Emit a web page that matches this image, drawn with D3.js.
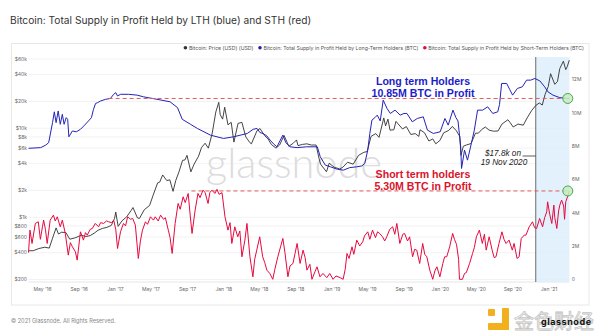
<!DOCTYPE html>
<html><head><meta charset="utf-8">
<script src="https://cdn.jsdelivr.net/npm/d3@7"></script>
<style>html,body{margin:0;padding:0;background:#fff;} svg{display:block;}</style>
</head><body>
<svg id="c" width="600" height="336"></svg>
<script>
// ---------------- DATA ----------------
const titleText = "Bitcoin: Total Supply in Profit Held by LTH (blue) and STH (red)";
const legendLabels = ["Bitcoin: Price (USD) (USD)", "Bitcoin: Total Supply in Profit Held by Long-Term Holders (BTC)", "Bitcoin: Total Supply in Profit Held by Short-Term Holders (BTC)"];

const priceDates = ["2016-03-16","2016-04-01","2016-04-20","2016-05-10","2016-05-25","2016-06-05","2016-06-17","2016-06-25","2016-07-05","2016-07-20","2016-08-02","2016-08-20","2016-09-10","2016-09-25","2016-10-10","2016-10-25","2016-11-05","2016-11-20","2016-12-05","2016-12-20","2016-12-31","2017-01-04","2017-01-12","2017-01-25","2017-02-10","2017-02-25","2017-03-03","2017-03-18","2017-03-25","2017-04-10","2017-04-28","2017-05-10","2017-05-25","2017-06-01","2017-06-11","2017-06-25","2017-07-05","2017-07-16","2017-07-25","2017-08-05","2017-08-17","2017-08-25","2017-09-01","2017-09-14","2017-09-25","2017-10-10","2017-10-20","2017-11-01","2017-11-12","2017-11-25","2017-12-07","2017-12-17","2017-12-22","2017-12-30","2018-01-06","2018-01-17","2018-01-28","2018-02-06","2018-02-20","2018-03-05","2018-03-18","2018-04-01","2018-04-06","2018-04-25","2018-05-05","2018-05-20","2018-06-01","2018-06-12","2018-06-28","2018-07-10","2018-07-25","2018-08-10","2018-08-25","2018-09-05","2018-09-10","2018-09-25","2018-10-10","2018-10-25","2018-11-10","2018-11-20","2018-11-25","2018-12-15","2018-12-24","2019-01-10","2019-01-28","2019-02-08","2019-02-24","2019-03-15","2019-04-02","2019-04-20","2019-05-01","2019-05-14","2019-05-30","2019-06-10","2019-06-26","2019-07-02","2019-07-10","2019-07-17","2019-07-30","2019-08-06","2019-08-28","2019-09-10","2019-09-25","2019-10-10","2019-10-22","2019-10-26","2019-11-10","2019-11-25","2019-12-08","2019-12-18","2020-01-01","2020-01-14","2020-01-31","2020-02-12","2020-02-25","2020-03-08","2020-03-12","2020-03-20","2020-03-30","2020-04-15","2020-04-30","2020-05-10","2020-05-20","2020-06-02","2020-06-15","2020-06-30","2020-07-15","2020-07-28","2020-08-17","2020-08-25","2020-09-04","2020-09-20","2020-10-08","2020-10-21","2020-11-05","2020-11-19","2020-12-01","2020-12-11","2020-12-20","2020-12-31","2021-01-08","2021-01-22","2021-01-31","2021-02-08","2021-02-20","2021-02-28","2021-03-05","2021-03-12"];
const priceValues = [415,416,440,455,445,575,750,640,670,665,560,580,620,600,615,660,705,740,760,800,960,1130,780,900,1000,1180,1270,970,960,1200,1340,1750,2400,2450,2950,2550,2600,1930,2550,3200,4300,4350,4900,3200,3900,4800,6000,6700,5900,8700,15000,19300,14000,12500,17000,10800,11500,6900,11200,11500,7900,6800,6600,9300,9800,8200,7500,6500,5900,6400,8200,6200,6700,7300,6300,6500,6600,6400,6400,4500,3900,3200,4000,3600,3450,3600,4100,3900,4900,5300,5400,8000,8600,7800,12900,10500,12500,9400,9500,11800,9700,10300,8400,8600,8000,9500,8800,7100,7500,6600,7200,8800,9350,10350,9300,8000,4900,6200,6400,6650,8700,8700,9500,10200,9400,9150,9200,11000,12300,11400,10200,11000,10700,12900,15600,17800,19000,18000,23500,29000,40500,30800,33000,46300,56000,45000,48500,57500];

const lthDates = ["2016-03-16","2016-04-26","2016-05-13","2016-05-23","2016-06-05","2016-06-11","2016-06-17","2016-06-24","2016-07-01","2016-07-08","2016-07-14","2016-07-21","2016-07-26","2016-07-30","2016-08-11","2016-08-24","2016-09-07","2016-09-21","2016-10-04","2016-10-14","2016-10-21","2016-10-28","2016-11-04","2016-11-14","2016-12-01","2016-12-17","2016-12-28","2017-01-04","2017-01-10","2017-01-20","2017-02-16","2017-03-17","2017-04-07","2017-05-23","2017-07-06","2017-07-31","2017-08-16","2017-09-13","2017-10-06","2017-11-19","2018-01-02","2018-02-05","2018-03-23","2018-04-12","2018-04-25","2018-05-05","2018-05-15","2018-05-28","2018-06-08","2018-06-21","2018-07-01","2018-07-11","2018-07-21","2018-07-31","2018-08-14","2018-09-07","2018-10-09","2018-11-14","2018-11-24","2018-12-11","2018-12-28","2019-01-21","2019-02-10","2019-03-03","2019-03-27","2019-04-13","2019-04-23","2019-05-03","2019-05-10","2019-05-17","2019-05-27","2019-06-04","2019-06-14","2019-06-24","2019-07-07","2019-07-18","2019-08-03","2019-08-20","2019-09-02","2019-09-12","2019-09-30","2019-10-17","2019-11-06","2019-11-20","2019-12-10","2020-01-02","2020-01-18","2020-01-29","2020-02-14","2020-02-24","2020-03-02","2020-03-11","2020-03-14","2020-03-24","2020-04-03","2020-04-16","2020-04-26","2020-05-07","2020-05-24","2020-06-10","2020-06-27","2020-07-14","2020-07-20","2020-07-27","2020-08-13","2020-08-23","2020-09-02","2020-09-18","2020-10-05","2020-10-19","2020-11-02","2020-11-16","2020-12-03","2020-12-19","2020-12-30","2021-01-16","2021-02-08","2021-03-03","2021-03-12"];
const lthValues = [7.86,7.9,8.05,8.2,9.4,10.05,9.4,10.1,9.3,9.9,9.3,9.7,9.6,8.55,8.9,8.85,9.0,9.25,9.5,9.7,10.2,10.55,10.6,10.7,10.8,10.85,11.1,11.2,11.0,11.1,11.1,11.05,10.95,10.8,10.65,10.3,9.6,9.3,9.05,8.65,8.45,8.55,8.75,9.0,9.05,8.8,8.75,8.6,8.35,8.1,7.95,8.3,8.65,8.2,7.95,7.9,7.95,7.95,7.35,6.85,6.75,6.6,6.55,6.7,6.75,6.8,6.95,7.75,8.75,9.55,9.7,9.85,9.5,10.75,10.25,9.95,10.15,9.85,9.95,9.95,9.45,9.65,9.75,8.95,8.75,8.85,9.65,9.25,10.15,9.7,9.5,8.0,6.65,7.75,7.15,8.15,8.95,10.15,10.15,10.35,9.95,10.05,10.5,11.75,11.75,11.4,11.05,11.45,11.55,11.95,11.95,12.05,11.9,11.55,11.25,11.05,10.9,10.85,10.85];

const sthDates = ["2016-03-16","2016-03-21","2016-03-28","2016-04-08","2016-04-18","2016-04-25","2016-05-02","2016-05-06","2016-05-12","2016-05-18","2016-05-28","2016-06-08","2016-06-14","2016-06-21","2016-07-01","2016-07-08","2016-07-18","2016-07-28","2016-08-04","2016-08-11","2016-08-21","2016-08-27","2016-09-07","2016-09-17","2016-09-24","2016-09-30","2016-10-10","2016-10-17","2016-10-27","2016-11-07","2016-11-14","2016-11-24","2016-12-04","2016-12-11","2016-12-21","2016-12-28","2017-01-04","2017-01-10","2017-01-20","2017-01-30","2017-02-06","2017-02-13","2017-02-23","2017-03-02","2017-03-11","2017-03-21","2017-03-28","2017-04-04","2017-04-14","2017-04-21","2017-05-01","2017-05-11","2017-05-17","2017-05-27","2017-06-04","2017-06-14","2017-06-20","2017-06-30","2017-07-06","2017-07-13","2017-07-23","2017-08-02","2017-08-09","2017-08-19","2017-08-26","2017-09-05","2017-09-12","2017-09-18","2017-09-28","2017-10-08","2017-10-15","2017-10-25","2017-11-01","2017-11-11","2017-11-17","2017-11-24","2017-12-04","2017-12-11","2017-12-18","2017-12-28","2018-01-07","2018-01-17","2018-01-24","2018-01-30","2018-02-09","2018-02-19","2018-02-26","2018-03-05","2018-03-15","2018-03-22","2018-04-01","2018-04-11","2018-04-17","2018-04-24","2018-05-04","2018-05-14","2018-05-21","2018-05-28","2018-06-07","2018-06-17","2018-06-24","2018-07-04","2018-07-14","2018-07-21","2018-07-28","2018-08-07","2018-08-14","2018-08-24","2018-08-31","2018-09-07","2018-09-17","2018-09-27","2018-10-04","2018-10-10","2018-10-20","2018-10-27","2018-11-06","2018-11-13","2018-11-23","2018-12-03","2018-12-16","2018-12-26","2019-01-06","2019-01-16","2019-01-30","2019-02-09","2019-02-16","2019-02-22","2019-03-01","2019-03-11","2019-03-17","2019-03-27","2019-04-06","2019-04-16","2019-04-22","2019-05-03","2019-05-10","2019-05-19","2019-05-29","2019-06-05","2019-06-12","2019-06-22","2019-06-29","2019-07-06","2019-07-16","2019-07-26","2019-08-02","2019-08-09","2019-08-19","2019-08-29","2019-09-04","2019-09-14","2019-09-21","2019-10-01","2019-10-08","2019-10-15","2019-10-25","2019-11-04","2019-11-11","2019-11-18","2019-11-28","2019-12-08","2019-12-15","2019-12-22","2020-01-01","2020-01-11","2020-01-17","2020-01-24","2020-02-03","2020-02-13","2020-02-19","2020-02-26","2020-03-04","2020-03-07","2020-03-17","2020-03-24","2020-03-30","2020-04-10","2020-04-20","2020-04-26","2020-05-03","2020-05-13","2020-05-23","2020-05-30","2020-06-05","2020-06-15","2020-06-25","2020-07-02","2020-07-08","2020-07-18","2020-07-28","2020-08-04","2020-08-11","2020-08-21","2020-09-01","2020-09-07","2020-09-17","2020-09-24","2020-10-01","2020-10-11","2020-10-17","2020-10-28","2020-11-08","2020-11-15","2020-11-22","2020-12-02","2020-12-12","2020-12-19","2020-12-26","2020-12-29","2021-01-05","2021-01-12","2021-01-19","2021-01-22","2021-01-29","2021-02-04","2021-02-08","2021-02-14","2021-02-21","2021-02-24","2021-02-28","2021-03-06","2021-03-12"];
const sthValues = [1.6,2.95,2.15,3.35,3.45,2.4,3.15,3.55,3.0,2.15,3.55,3.85,3.5,3.75,3.15,3.55,2.75,1.45,2.2,1.95,1.65,1.15,2.85,2.35,2.8,2.65,3.0,3.05,3.35,3.15,3.4,3.35,3.5,3.45,3.4,3.55,3.0,1.85,2.85,3.35,3.2,3.75,3.6,3.65,3.25,1.25,2.3,2.95,3.45,3.3,3.75,3.55,3.75,3.5,3.85,3.6,3.7,2.95,2.5,1.55,3.35,4.55,4.2,4.95,4.6,5.15,3.8,2.75,4.1,5.15,4.9,5.35,5.2,4.55,5.2,5.35,5.15,5.4,5.1,5.2,3.75,2.95,3.4,2.15,3.15,2.55,2.9,1.35,2.35,3.35,1.35,0.15,1.2,1.75,2.55,1.35,1.0,0.55,0.35,0.0,0.6,1.35,2.0,2.45,1.6,0.15,0.8,0.95,1.55,2.15,0.95,1.75,1.3,0.55,0.9,0.0,0.45,0.75,0.15,0.35,0.1,0.35,0.0,0.2,0.1,0.0,0.6,1.55,1.25,1.95,1.5,2.35,2.0,2.25,2.6,2.85,2.4,2.95,2.5,2.85,2.75,2.55,2.3,2.55,3.0,3.15,2.7,3.35,2.15,2.7,2.75,2.3,2.55,1.35,1.8,1.75,0.95,2.15,1.5,1.35,0.55,0.0,0.5,0.75,0.15,0.95,1.35,1.35,1.95,2.75,2.4,2.1,1.2,0.0,0.0,0.35,0.4,0.95,1.55,1.9,2.55,2.95,2.15,2.7,1.75,2.55,1.75,1.3,1.35,2.15,2.85,2.4,2.15,2.35,1.75,2.15,1.25,1.35,2.45,2.65,2.65,3.15,3.45,3.1,3.05,3.65,3.15,3.7,4.05,4.65,3.9,3.35,4.45,3.7,3.05,4.1,4.45,4.75,4.4,3.6,4.65,4.95,5.3];

const leftTicks = [200,400,600,800,1000,2000,4000,6000,8000,10000,20000,40000,60000];
const leftTickLabels = ["$200","$400","$600","$800","$1k","$2k","$4k","$6k","$8k","$10k","$20k","$40k","$60k"];
const rightTicks = [0,2,4,6,8,10,12];
const rightTickLabels = ["0","2M","4M","6M","8M","10M","12M"];
const xTickDates = ["2016-05-01","2016-09-01","2017-01-01","2017-05-01","2017-09-01","2018-01-01","2018-05-01","2018-09-01","2019-01-01","2019-05-01","2019-09-01","2020-01-01","2020-05-01","2020-09-01","2021-01-01"];
const xTickLabels = ["May '16","Sep '16","Jan '17","May '17","Sep '17","Jan '18","May '18","Sep '18","Jan '19","May '19","Sep '19","Jan '20","May '20","Sep '20","Jan '21"];

const lthLevel = 10.85, sthLevel = 5.30;
const lthLevelStart = "2016-12-11", sthLevelStart = "2017-09-16";
const highlightStart = "2020-11-19";
const annoLTH = ["Long term Holders", "10.85M BTC in Profit"];
const annoSTH = ["Short term holders", "5.30M BTC in Profit"];
const annoPrice = ["$17.8k on", "19 Nov 2020"];

// ---------------- DRAW ----------------
const parse = d3.timeParse("%Y-%m-%d");
const svg = d3.select("#c");
const F = "Inter, 'Noto Sans', sans-serif";
const PL = 28.5, PR = 569.3, PT = 57, PB = 282;

const x = d3.scaleTime().domain([parse("2016-03-16"), parse("2021-03-12")]).range([PL, PR]);
const yL = d3.scaleLog().domain([200, 60000]).range([279, 58.5]);
const yR = d3.scaleLinear().domain([0, 12]).range([279.3, 79.3]);

const price = priceDates.map((d,i)=>({date:parse(d), v:priceValues[i]}));
const lth = lthDates.map((d,i)=>({date:parse(d), v:lthValues[i]}));
const sth = sthDates.map((d,i)=>({date:parse(d), v:sthValues[i]}));

// title
svg.append("text").attr("x", 10).attr("y", 24).attr("font-family", F).attr("font-size", 10.2)
  .attr("fill", "#333").text(titleText);

// frame
svg.append("rect").attr("x", 11.5).attr("y", 43.5).attr("width", 577.5).attr("height", 261.5)
  .attr("fill", "none").attr("stroke", "#e8e8e8");

// legend (right aligned)
const legendColors = ["#333", "#1f1fb4", "#e8083e"];
const lg = svg.append("g").attr("font-family", F).attr("font-size", 5.2).attr("fill", "#555");
let cursor = 584;
for (let i = legendLabels.length - 1; i >= 0; i--) {
  const t = lg.append("text").attr("y", 49.6).text(legendLabels[i]);
  const w = t.node().getComputedTextLength();
  t.attr("x", cursor - w);
  lg.append("circle").attr("cx", cursor - w - 3.5).attr("cy", 47.8).attr("r", 1.8).attr("fill", legendColors[i]);
  cursor = cursor - w - 10;
}

// gridlines
const grid = svg.append("g").attr("transform", `translate(${PL},0)`)
  .call(d3.axisLeft(yL).tickValues(leftTicks).tickSize(-(PR - PL)).tickFormat(""));
grid.select(".domain").remove();
grid.selectAll("line").attr("stroke", "#efefef").attr("stroke-width", 0.8);

// bottom line
svg.append("line").attr("x1", PL).attr("x2", PR).attr("y1", PB).attr("y2", PB).attr("stroke", "#e6e6e6");

// watermark
svg.append("text").attr("x", 206).attr("y", 178).attr("font-family", "Lato, 'Open Sans', sans-serif")
  .attr("font-weight", 300).attr("font-size", 42).attr("fill", "#dcdcdc").attr("textLength", 176).attr("lengthAdjust", "spacingAndGlyphs")
  .text("glassnode");

// highlight region
const hs = parse(highlightStart);
svg.append("rect").attr("x", x(hs)).attr("y", PT).attr("width", x.range()[1] - x(hs)).attr("height", PB - PT)
  .attr("fill", "#dceefb").attr("opacity", 0.8);
svg.append("line").attr("x1", x(hs)).attr("x2", x(hs)).attr("y1", PT).attr("y2", PB)
  .attr("stroke", "#6b6b6b").attr("stroke-width", 1);

// axes labels
const axL = svg.append("g").attr("transform", `translate(${PL - 1.5},0)`)
  .call(d3.axisLeft(yL).tickValues(leftTicks).tickSize(0).tickPadding(0).tickFormat((d,i)=>leftTickLabels[i]));
axL.select(".domain").remove();
axL.selectAll("text").attr("font-family", F).attr("font-size", 5).attr("fill", "#666");

const axR = svg.append("g").attr("transform", `translate(${PR + 2.5},0)`)
  .call(d3.axisRight(yR).tickValues(rightTicks).tickSize(0).tickPadding(0).tickFormat((d,i)=>rightTickLabels[i]));
axR.select(".domain").remove();
axR.selectAll("text").attr("font-family", F).attr("font-size", 5).attr("fill", "#666");

const axB = svg.append("g").attr("transform", `translate(0,${PB})`)
  .call(d3.axisBottom(x).tickValues(xTickDates.map(parse)).tickSize(0).tickPadding(5.5).tickFormat((d,i)=>xTickLabels[i]));
axB.select(".domain").remove();
axB.selectAll("text").attr("font-family", F).attr("font-size", 5).attr("fill", "#666");

// series
const linePrice = d3.line().x(d=>x(d.date)).y(d=>yL(d.v));
const lineR = d3.line().x(d=>x(d.date)).y(d=>yR(d.v));
svg.append("path").datum(price).attr("d", linePrice).attr("fill", "none").attr("stroke", "#303030").attr("stroke-width", 0.9);
svg.append("path").datum(lth).attr("d", lineR).attr("fill", "none").attr("stroke", "#2323b8").attr("stroke-width", 1);
svg.append("path").datum(sth).attr("d", lineR).attr("fill", "none").attr("stroke", "#e8083e").attr("stroke-width", 1);

// dashed levels
svg.append("line").attr("x1", x(parse(lthLevelStart))).attr("x2", PR).attr("y1", yR(lthLevel)).attr("y2", yR(lthLevel))
  .attr("stroke", "#e25b5b").attr("stroke-width", 1).attr("stroke-dasharray", "4,3");
svg.append("line").attr("x1", x(parse(sthLevelStart))).attr("x2", PR).attr("y1", yR(sthLevel)).attr("y2", yR(sthLevel))
  .attr("stroke", "#e25b5b").attr("stroke-width", 1).attr("stroke-dasharray", "4,3");

// end circles
[lth[lth.length-1], sth[sth.length-1]].forEach(p => {
  svg.append("circle").attr("cx", x(p.date) - 1.5).attr("cy", yR(p.v)).attr("r", 5)
    .attr("fill", "#c5ecbf").attr("fill-opacity", 0.85).attr("stroke", "#3f9b3f").attr("stroke-width", 0.9);
});

// annotations
const AF = "'Liberation Sans', Arial, sans-serif";
const a1 = svg.append("text").attr("font-family", AF).attr("font-weight", "bold").attr("font-size", 10.6)
  .attr("fill", "#1d1dc6").attr("text-anchor", "middle");
a1.append("tspan").attr("x", 423).attr("y", 85).text(annoLTH[0]);
a1.append("tspan").attr("x", 423).attr("y", 97).text(annoLTH[1]);
const a2 = svg.append("text").attr("font-family", AF).attr("font-weight", "bold").attr("font-size", 10.6)
  .attr("fill", "#d9142c").attr("text-anchor", "middle");
a2.append("tspan").attr("x", 423).attr("y", 178).text(annoSTH[0]);
a2.append("tspan").attr("x", 423).attr("y", 190.3).text(annoSTH[1]);
const a3 = svg.append("text").attr("font-family", AF).attr("font-style", "italic").attr("font-size", 8.2)
  .attr("fill", "#222").attr("text-anchor", "middle");
a3.append("tspan").attr("x", 503).attr("y", 155.5).text(annoPrice[0]);
a3.append("tspan").attr("x", 504).attr("y", 164.5).text(annoPrice[1]);
svg.append("line").attr("x1", 522.5).attr("x2", x(hs)).attr("y1", 156).attr("y2", 156).attr("stroke", "#333").attr("stroke-width", 0.8);

// footer
svg.append("text").attr("x", 11).attr("y", 323).attr("font-family", F).attr("font-size", 5.6).attr("fill", "#888")
  .text("© 2021 Glassnode. All Rights Reserved.");

// bottom-right watermark logo
const lgo = svg.append("g");
lgo.append("rect").attr("x", 488).attr("y", 309).attr("width", 7).attr("height", 7).attr("rx", 1).attr("fill", "#f2b01e");
lgo.append("rect").attr("x", 502).attr("y", 308).attr("width", 7).attr("height", 22).attr("rx", 1).attr("fill", "#f2b01e");
lgo.append("rect").attr("x", 488).attr("y", 323).attr("width", 21).attr("height", 7).attr("rx", 1).attr("fill", "#f2b01e");
lgo.append("text").attr("x", 514).attr("y", 329).attr("font-family", "'Noto Sans CJK SC', sans-serif").attr("font-size", 20)
  .attr("fill", "#fafafa").attr("stroke", "#c4c4c4").attr("stroke-width", 0.8).attr("textLength", 80).text("金色财经");
lgo.append("text").attr("x", 541).attr("y", 324.5).attr("font-family", F).attr("font-weight", "bold").attr("font-size", 9)
  .attr("fill", "#111").attr("textLength", 50).text("glassnode");
</script>
</body></html>
